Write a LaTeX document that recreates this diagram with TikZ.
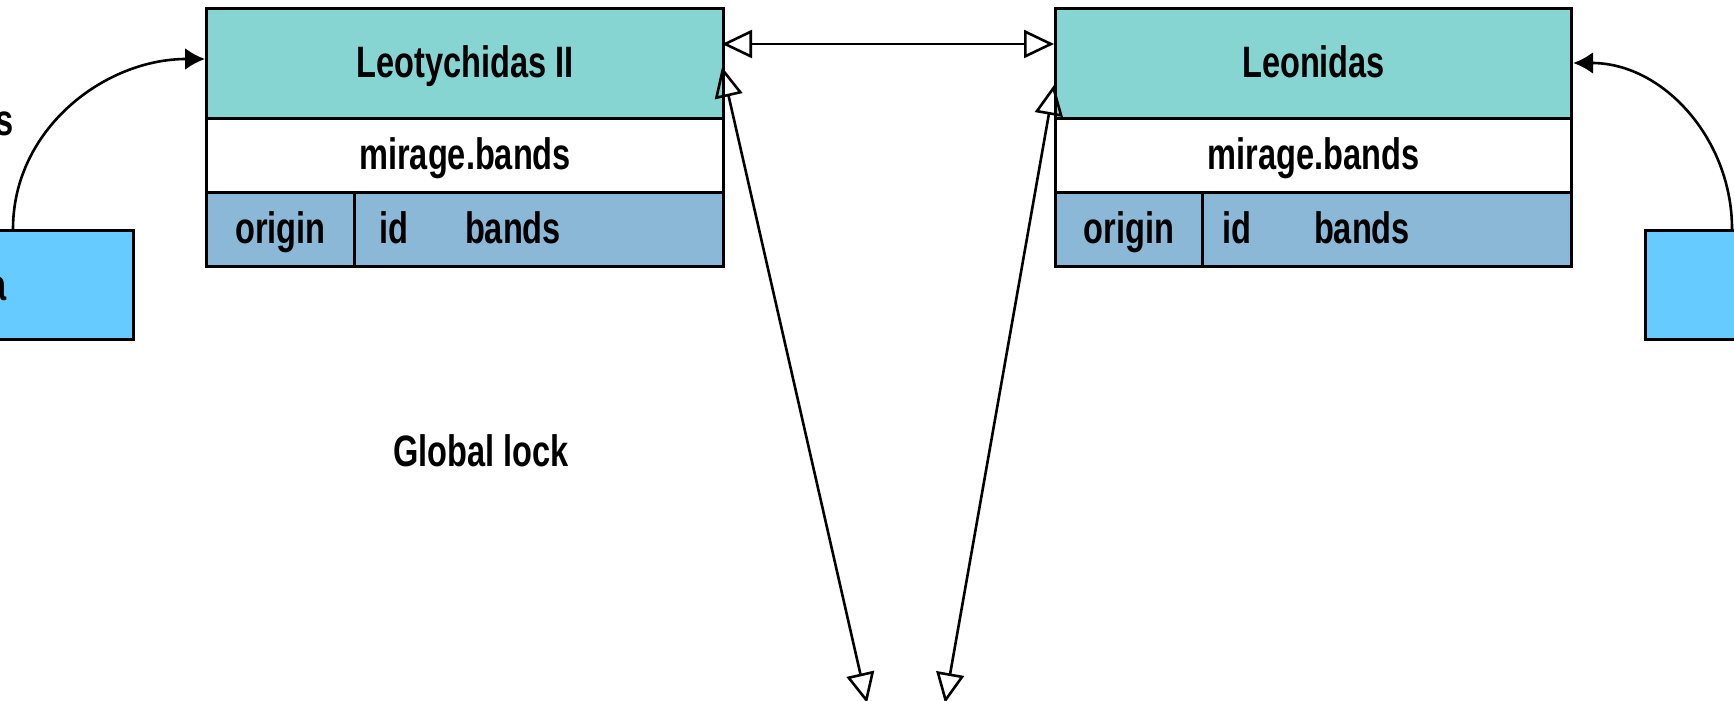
\documentclass[tikz,border=0pt]{standalone}
\usepackage{fontspec}
\setmainfont{Liberation Sans}[FakeStretch=0.74]
\usepackage{xcolor}
\usepackage{tikz}
\usetikzlibrary{arrows.meta, positioning, calc}

\definecolor{headteal}{RGB}{134,213,210}
\definecolor{rowblue}{RGB}{139,184,214}
\definecolor{skyblue}{RGB}{102,204,255}

\begin{document}
\begin{tikzpicture}[
        x=0.5pt, y=-0.5pt,
        font=\fontsize{22}{26}\selectfont\bfseries,
        every node/.style={text height=16pt, text depth=2pt},
        cell/.style={rectangle, draw=black, line width=1.6pt, inner sep=0pt, anchor=north west, align=center},
        head/.style={cell, fill=headteal, minimum height=55pt},
        tname/.style={cell, fill=white, minimum height=37pt},
        field/.style={cell, fill=rowblue, minimum height=37pt},
        peer/.style={rectangle, draw=black, line width=1.6pt, fill=skyblue, inner sep=0pt, anchor=north west, minimum width=96pt, minimum height=54.5pt},
        link/.style={line width=1.3pt, {Triangle[open, length=15pt, width=14pt]}-{Triangle[open, length=15pt, width=14pt]}},
        call/.style={line width=1.3pt, -{Latex[length=10pt, width=11pt]}}
    ]
        \useasboundingbox (0,0) rectangle (1734,701);

        % Table Leotychidas II
        \node[head, minimum width=258.5pt] (leoH) at (205,7) {Leotychidas II};
        \node[tname, minimum width=258.5pt] (leoT) at (205,117) {mirage.bands};
        \node[field, minimum width=74pt] (leoO) at (205,191) {origin};
        \node[field, minimum width=184.5pt] (leoR) at (353,191) {};
        \node (leoId) at (394,229) {id};
        \node (leoB) at (513,229) {bands};

        % Table Leonidas
        \node[head, minimum width=258pt] (lenH) at (1054,7) {Leonidas};
        \node[tname, minimum width=258pt] (lenT) at (1054,117) {mirage.bands};
        \node[field, minimum width=73.5pt] (lenO) at (1054,191) {origin};
        \node[field, minimum width=184.5pt] (lenR) at (1201,191) {};
        \node (lenId) at (1237,229) {id};
        \node (lenB) at (1362,229) {bands};

        % Clients (cut by the page edge)
        \node[peer] (cliL) at (-60,229) {};
        \node[anchor=east] (cliLtxt) at (14,286) {a};
        \node[anchor=east] (cliLlbl) at (21,121) {s};
        \node[peer] (cliR) at (1644,229) {};

        \node (lock) at (481,452) {Global lock};

        % Links
        \coordinate (leoTop) at (722,44);
        \coordinate (lenTop) at (1054,44);
        \draw[link] (leoTop) -- (lenTop);

        \coordinate (leoIn) at (722,67);
        \coordinate (lenIn) at (1054,85);
        \coordinate (lockA) at (867,703);
        \coordinate (lockB) at (945,703);
        \draw[link] (leoIn) -- (lockA);
        \draw[link] (lenIn) -- (lockB);

        \coordinate (cliLout) at (13,229);
        \coordinate (cliRout) at (1732,229);
        \draw[call] (cliLout) to[out=90, in=180] (leoH.west |- 0,59);
        \draw[call] (cliRout) to[out=90, in=0] (lenH.east |- 0,63);
    \end{tikzpicture}
\end{document}
